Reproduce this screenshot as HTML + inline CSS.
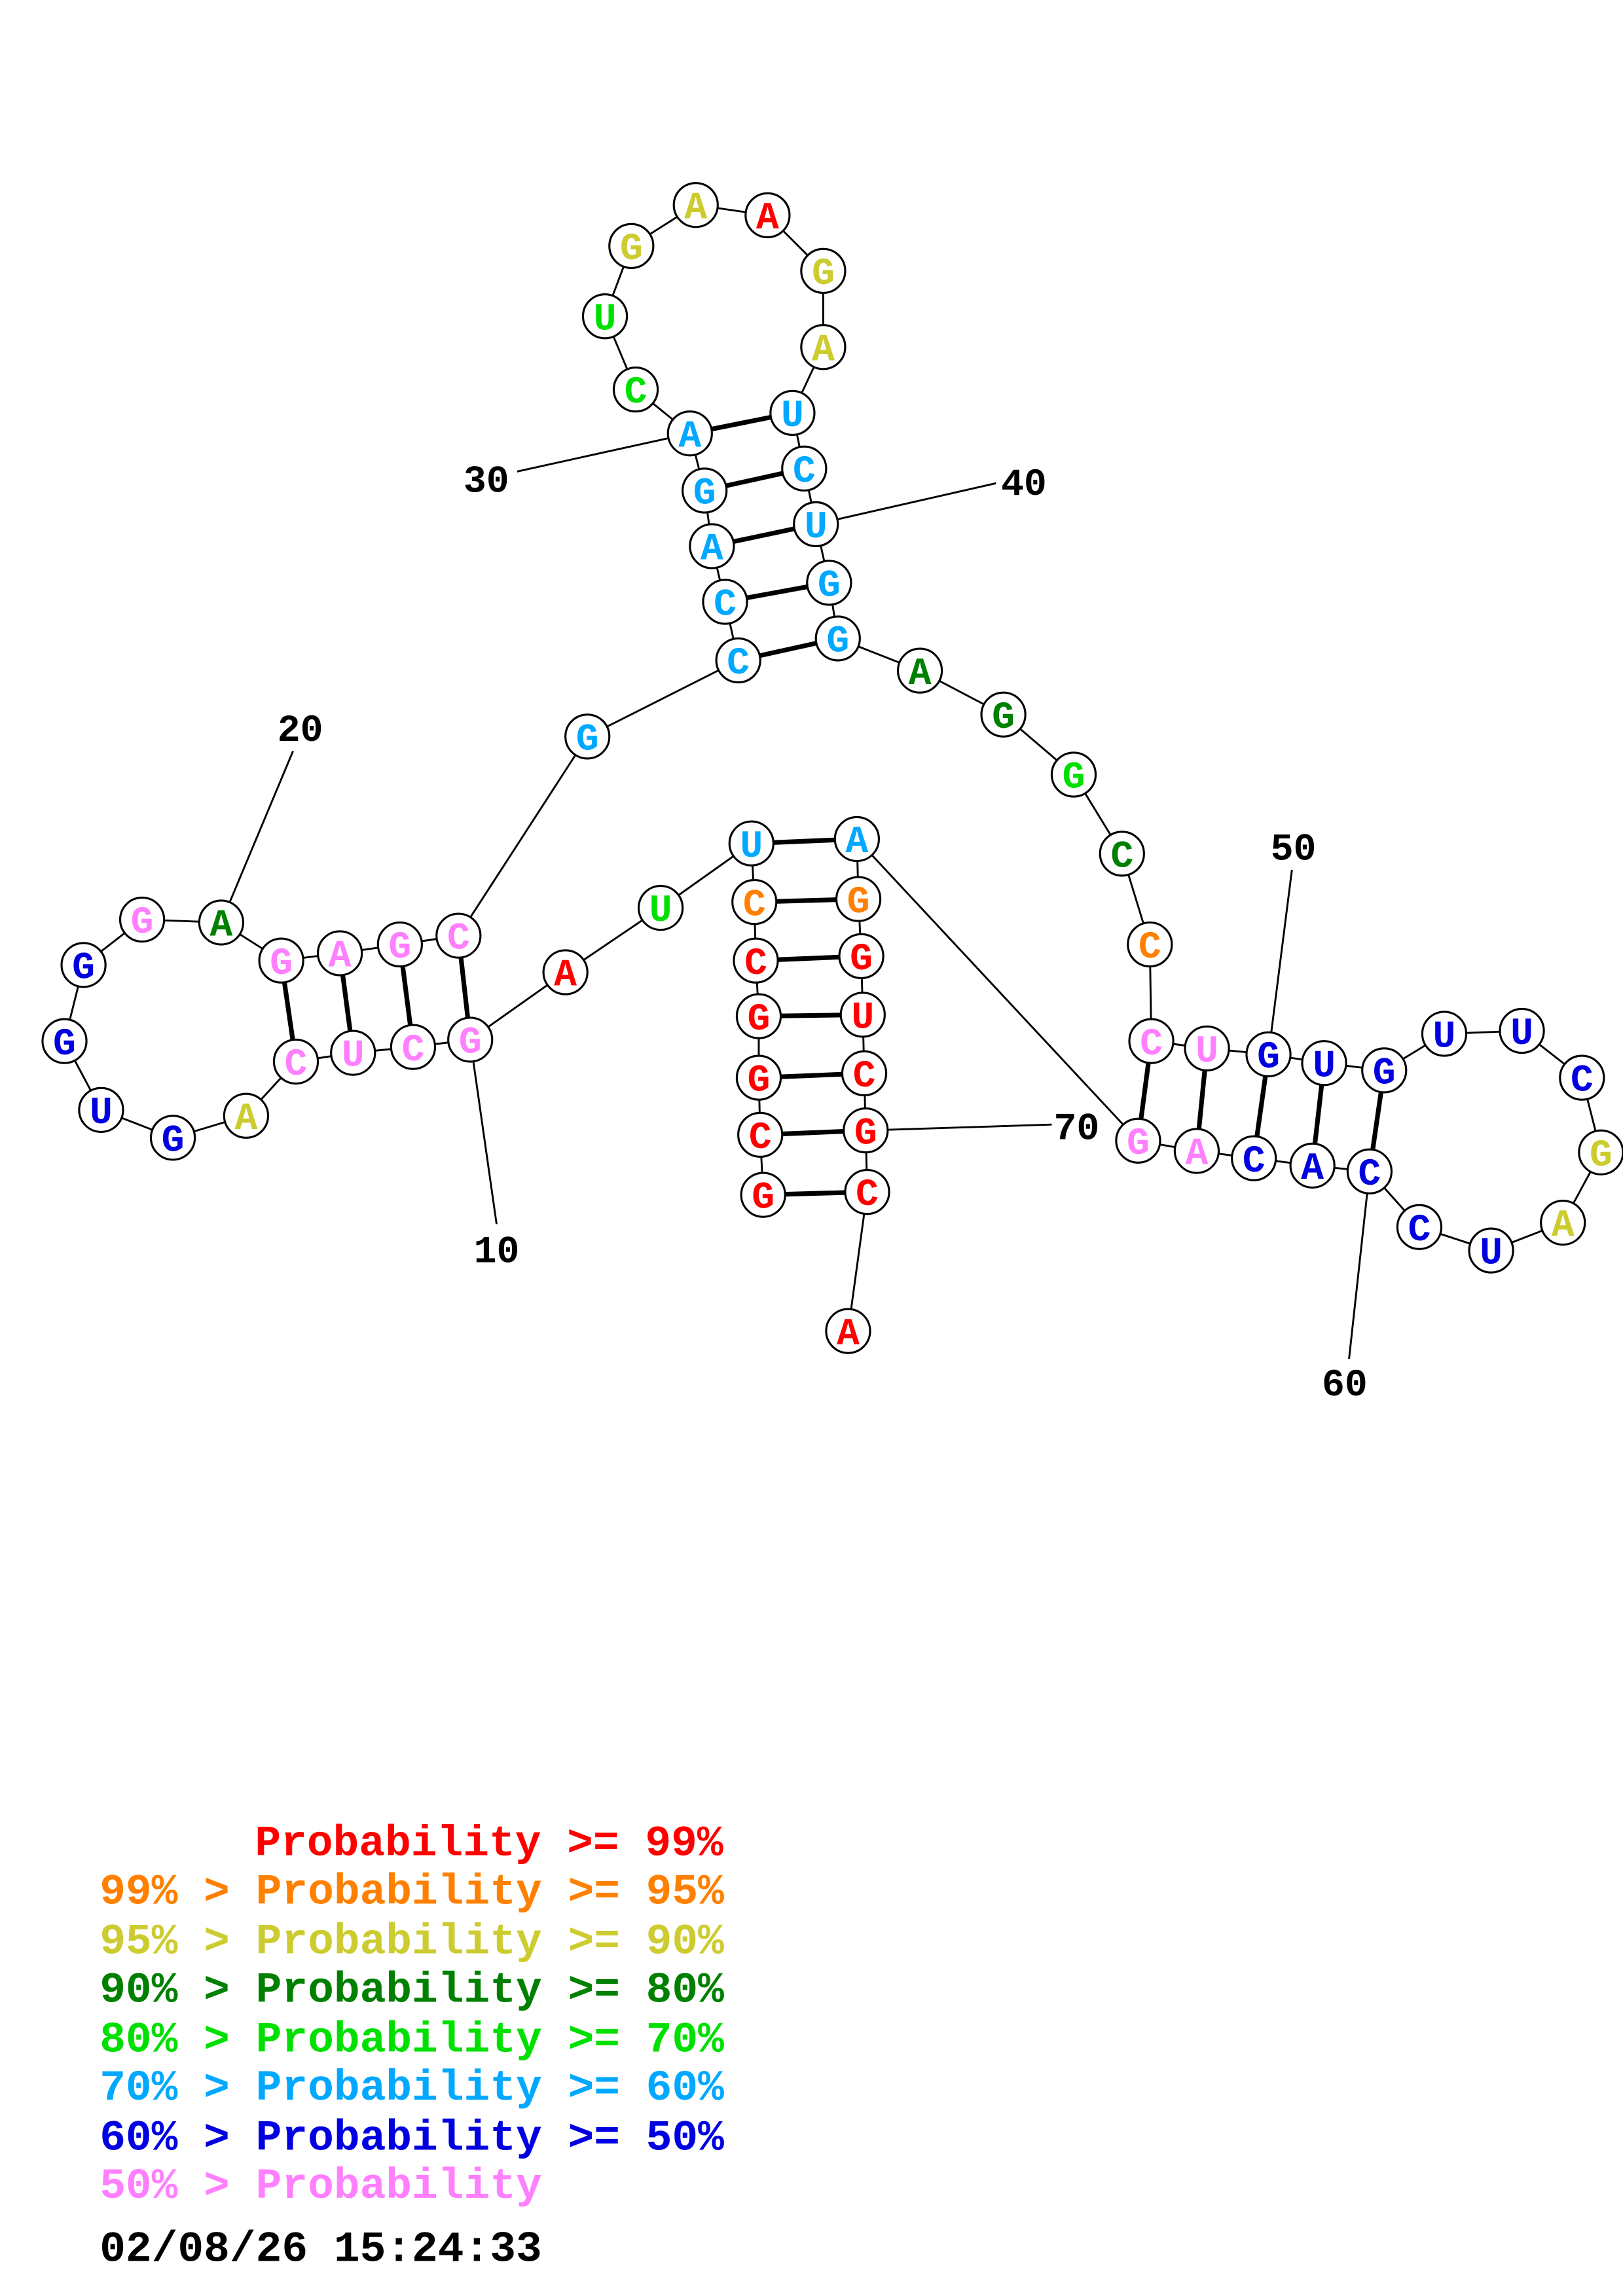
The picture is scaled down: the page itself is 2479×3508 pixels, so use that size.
<!DOCTYPE html>
<html><head><meta charset="utf-8"><style>html,body{margin:0;padding:0;background:#fff}svg{display:block}</style></head>
<body>
<svg xmlns="http://www.w3.org/2000/svg" width="2479" height="3508" viewBox="0 0 1108 1568">
<rect width="1108" height="1568" fill="#fff"/>
<g stroke="#000" stroke-width="1.3" fill="none">
<polyline points="521,816 519,775 518,736 518,694 516,656 515,616 513,576 451,620 386,664 321,710 282,715 241,719 202,725 168,762 118,777 69,758 44,711 57,659 97,628 151,630 192,656 232,651 273,645 313,639 401,503 504,451 495,411 486,373 481,335 471,296 434,266 413,216 431,168 475,140 524,147 562,185 562,237 541,282 549,320 557,358 566,398 572,436 628,458 685,488 733,529 766,583 785,645 786,711 824,716 866,720 904,726 945,731 986,706 1039,704 1080,736 1093,787 1067,835 1018,854 969,838 935,800 896,796 856,791 817,786 777,779 585,573 586,614 588,653 589,693 590,733 591,772 592,814 579,909"/>
<line x1="321" y1="710" x2="339" y2="836"/>
<line x1="151" y1="630" x2="200" y2="513"/>
<line x1="471" y1="296" x2="353" y2="322"/>
<line x1="557" y1="358" x2="680" y2="330"/>
<line x1="866" y1="720" x2="882" y2="594"/>
<line x1="935" y1="800" x2="921" y2="928"/>
<line x1="591" y1="772" x2="718" y2="768"/>
</g>
<g stroke="#000" stroke-width="3.2">
<line x1="521" y1="816" x2="592" y2="814"/><line x1="519" y1="775" x2="591" y2="772"/><line x1="518" y1="736" x2="590" y2="733"/><line x1="518" y1="694" x2="589" y2="693"/><line x1="516" y1="656" x2="588" y2="653"/><line x1="515" y1="616" x2="586" y2="614"/><line x1="513" y1="576" x2="585" y2="573"/>
<line x1="321" y1="710" x2="313" y2="639"/><line x1="282" y1="715" x2="273" y2="645"/><line x1="241" y1="719" x2="232" y2="651"/><line x1="202" y1="725" x2="192" y2="656"/>
<line x1="504" y1="451" x2="572" y2="436"/><line x1="495" y1="411" x2="566" y2="398"/><line x1="486" y1="373" x2="557" y2="358"/><line x1="481" y1="335" x2="549" y2="320"/><line x1="471" y1="296" x2="541" y2="282"/>
<line x1="786" y1="711" x2="777" y2="779"/><line x1="824" y1="716" x2="817" y2="786"/><line x1="866" y1="720" x2="856" y2="791"/><line x1="904" y1="726" x2="896" y2="796"/><line x1="945" y1="731" x2="935" y2="800"/>
</g>
<g fill="#fff" stroke="#000" stroke-width="1.4">
<circle cx="521" cy="816" r="15"/><circle cx="519" cy="775" r="15"/><circle cx="518" cy="736" r="15"/><circle cx="518" cy="694" r="15"/><circle cx="516" cy="656" r="15"/><circle cx="515" cy="616" r="15"/><circle cx="513" cy="576" r="15"/><circle cx="451" cy="620" r="15"/><circle cx="386" cy="664" r="15"/><circle cx="321" cy="710" r="15"/><circle cx="282" cy="715" r="15"/><circle cx="241" cy="719" r="15"/><circle cx="202" cy="725" r="15"/><circle cx="168" cy="762" r="15"/><circle cx="118" cy="777" r="15"/><circle cx="69" cy="758" r="15"/><circle cx="44" cy="711" r="15"/><circle cx="57" cy="659" r="15"/><circle cx="97" cy="628" r="15"/><circle cx="151" cy="630" r="15"/><circle cx="192" cy="656" r="15"/><circle cx="232" cy="651" r="15"/><circle cx="273" cy="645" r="15"/><circle cx="313" cy="639" r="15"/><circle cx="401" cy="503" r="15"/><circle cx="504" cy="451" r="15"/><circle cx="495" cy="411" r="15"/><circle cx="486" cy="373" r="15"/><circle cx="481" cy="335" r="15"/><circle cx="471" cy="296" r="15"/><circle cx="434" cy="266" r="15"/><circle cx="413" cy="216" r="15"/><circle cx="431" cy="168" r="15"/><circle cx="475" cy="140" r="15"/><circle cx="524" cy="147" r="15"/><circle cx="562" cy="185" r="15"/><circle cx="562" cy="237" r="15"/><circle cx="541" cy="282" r="15"/><circle cx="549" cy="320" r="15"/><circle cx="557" cy="358" r="15"/><circle cx="566" cy="398" r="15"/><circle cx="572" cy="436" r="15"/><circle cx="628" cy="458" r="15"/><circle cx="685" cy="488" r="15"/><circle cx="733" cy="529" r="15"/><circle cx="766" cy="583" r="15"/><circle cx="785" cy="645" r="15"/><circle cx="786" cy="711" r="15"/><circle cx="824" cy="716" r="15"/><circle cx="866" cy="720" r="15"/><circle cx="904" cy="726" r="15"/><circle cx="945" cy="731" r="15"/><circle cx="986" cy="706" r="15"/><circle cx="1039" cy="704" r="15"/><circle cx="1080" cy="736" r="15"/><circle cx="1093" cy="787" r="15"/><circle cx="1067" cy="835" r="15"/><circle cx="1018" cy="854" r="15"/><circle cx="969" cy="838" r="15"/><circle cx="935" cy="800" r="15"/><circle cx="896" cy="796" r="15"/><circle cx="856" cy="791" r="15"/><circle cx="817" cy="786" r="15"/><circle cx="777" cy="779" r="15"/><circle cx="585" cy="573" r="15"/><circle cx="586" cy="614" r="15"/><circle cx="588" cy="653" r="15"/><circle cx="589" cy="693" r="15"/><circle cx="590" cy="733" r="15"/><circle cx="591" cy="772" r="15"/><circle cx="592" cy="814" r="15"/><circle cx="579" cy="909" r="15"/>
</g>
<g font-family="'Liberation Mono', monospace" font-weight="bold" font-size="26" text-anchor="middle">
<g transform="translate(0,9)">
<text x="521" y="816" fill="#f00">G</text><text x="519" y="775" fill="#f00">C</text><text x="518" y="736" fill="#f00">G</text><text x="518" y="694" fill="#f00">G</text><text x="516" y="656" fill="#f00">C</text><text x="515" y="616" fill="#ff8000">C</text><text x="513" y="576" fill="#00a8ff">U</text><text x="451" y="620" fill="#00e000">U</text><text x="386" y="664" fill="#f00">A</text><text x="321" y="710" fill="#ff80ff">G</text><text x="282" y="715" fill="#ff80ff">C</text><text x="241" y="719" fill="#ff80ff">U</text><text x="202" y="725" fill="#ff80ff">C</text><text x="168" y="762" fill="#cccc30">A</text><text x="118" y="777" fill="#0000e0">G</text><text x="69" y="758" fill="#0000e0">U</text><text x="44" y="711" fill="#0000e0">G</text><text x="57" y="659" fill="#0000e0">G</text><text x="97" y="628" fill="#ff80ff">G</text><text x="151" y="630" fill="#008000">A</text><text x="192" y="656" fill="#ff80ff">G</text><text x="232" y="651" fill="#ff80ff">A</text><text x="273" y="645" fill="#ff80ff">G</text><text x="313" y="639" fill="#ff80ff">C</text><text x="401" y="503" fill="#00a8ff">G</text><text x="504" y="451" fill="#00a8ff">C</text><text x="495" y="411" fill="#00a8ff">C</text><text x="486" y="373" fill="#00a8ff">A</text><text x="481" y="335" fill="#00a8ff">G</text><text x="471" y="296" fill="#00a8ff">A</text><text x="434" y="266" fill="#00e000">C</text><text x="413" y="216" fill="#00e000">U</text><text x="431" y="168" fill="#cccc30">G</text><text x="475" y="140" fill="#cccc30">A</text><text x="524" y="147" fill="#f00">A</text><text x="562" y="185" fill="#cccc30">G</text><text x="562" y="237" fill="#cccc30">A</text><text x="541" y="282" fill="#00a8ff">U</text><text x="549" y="320" fill="#00a8ff">C</text><text x="557" y="358" fill="#00a8ff">U</text><text x="566" y="398" fill="#00a8ff">G</text><text x="572" y="436" fill="#00a8ff">G</text><text x="628" y="458" fill="#008000">A</text><text x="685" y="488" fill="#008000">G</text><text x="733" y="529" fill="#00e000">G</text><text x="766" y="583" fill="#008000">C</text><text x="785" y="645" fill="#ff8000">C</text><text x="786" y="711" fill="#ff80ff">C</text><text x="824" y="716" fill="#ff80ff">U</text><text x="866" y="720" fill="#0000e0">G</text><text x="904" y="726" fill="#0000e0">U</text><text x="945" y="731" fill="#0000e0">G</text><text x="986" y="706" fill="#0000e0">U</text><text x="1039" y="704" fill="#0000e0">U</text><text x="1080" y="736" fill="#0000e0">C</text><text x="1093" y="787" fill="#cccc30">G</text><text x="1067" y="835" fill="#cccc30">A</text><text x="1018" y="854" fill="#0000e0">U</text><text x="969" y="838" fill="#0000e0">C</text><text x="935" y="800" fill="#0000e0">C</text><text x="896" y="796" fill="#0000e0">A</text><text x="856" y="791" fill="#0000e0">C</text><text x="817" y="786" fill="#ff80ff">A</text><text x="777" y="779" fill="#ff80ff">G</text><text x="585" y="573" fill="#00a8ff">A</text><text x="586" y="614" fill="#ff8000">G</text><text x="588" y="653" fill="#f00">G</text><text x="589" y="693" fill="#f00">U</text><text x="590" y="733" fill="#f00">C</text><text x="591" y="772" fill="#f00">G</text><text x="592" y="814" fill="#f00">C</text><text x="579" y="909" fill="#f00">A</text>
</g>
<g fill="#000" font-size="26">
<text x="339" y="862">10</text><text x="205" y="506">20</text><text x="332" y="336">30</text><text x="699" y="338">40</text><text x="883" y="587">50</text><text x="918" y="953">60</text><text x="735" y="778">70</text>
</g>
</g>
<g font-family="'Liberation Mono', monospace" font-weight="bold" font-size="29.6">
<text x="174" y="1267" fill="#f00">Probability &gt;= 99%</text>
<text x="68" y="1300" fill="#ff8000">99% &gt; Probability &gt;= 95%</text>
<text x="68" y="1334" fill="#cccc30">95% &gt; Probability &gt;= 90%</text>
<text x="68" y="1367" fill="#008000">90% &gt; Probability &gt;= 80%</text>
<text x="68" y="1401" fill="#00e000">80% &gt; Probability &gt;= 70%</text>
<text x="68" y="1434" fill="#00a8ff">70% &gt; Probability &gt;= 60%</text>
<text x="68" y="1468" fill="#0000e0">60% &gt; Probability &gt;= 50%</text>
<text x="68" y="1501" fill="#ff80ff">50% &gt; Probability</text>
<text x="68" y="1544" fill="#000">02/08/26 15:24:33</text>
</g>
</svg>
</body></html>
